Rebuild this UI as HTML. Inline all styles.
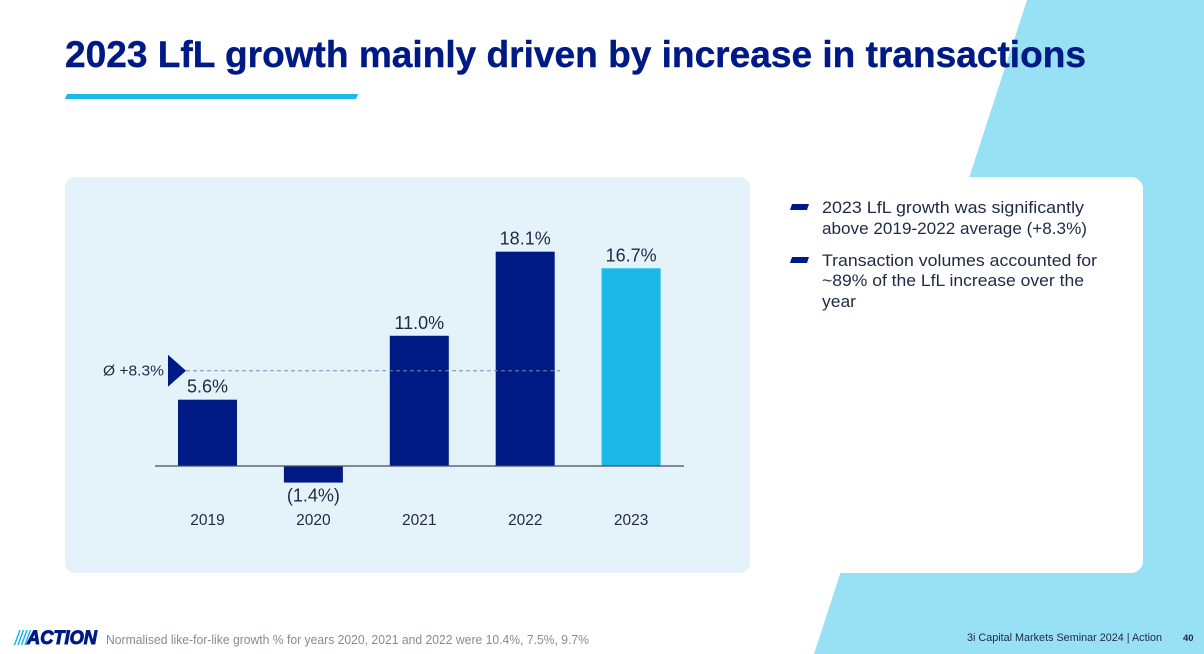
<!DOCTYPE html>
<html lang="en">
<head>
<meta charset="utf-8">
<title>2023 LfL growth mainly driven by increase in transactions</title>
<style>
  html, body { margin: 0; padding: 0; width: 1204px; height: 654px; overflow: hidden; background: #fff; }
  svg { display: block; font-family: "Liberation Sans", "DejaVu Sans", sans-serif; }
</style>
</head>
<body>
<svg id="slide" width="1204" height="654" viewBox="0 0 1204 654" xmlns="http://www.w3.org/2000/svg">
  <rect width="1204" height="654" fill="#ffffff"/>
  <polygon points="1027,0 1204,0 1204,654 814,654" fill="#98e0f3"/>

  <text x="65" y="67" font-size="37" font-weight="700" fill="#001a85" stroke="#001a85" stroke-width="0.4" textLength="1021" lengthAdjust="spacingAndGlyphs">2023 LfL growth mainly driven by increase in transactions</text>
  <polygon points="67,94 358,94 356,99 65,99" fill="#1bb8e8"/>

  <rect x="65" y="177" width="685" height="396" rx="10" fill="#e4f2fa"/>
  <g id="chart"></g>

  <rect x="769" y="177" width="374" height="396" rx="12" fill="#ffffff"/>
  <g font-size="16.5" fill="#1f2a44">
    <polygon points="792,204 809,204 807,210 790,210" fill="#001a85"/>
    <text x="822" y="213" textLength="262" lengthAdjust="spacingAndGlyphs">2023 LfL growth was significantly</text>
    <text x="822" y="234" textLength="265" lengthAdjust="spacingAndGlyphs">above 2019-2022 average (+8.3%)</text>
    <polygon points="792,257 809,257 807,263 790,263" fill="#001a85"/>
    <text x="822" y="266" textLength="275" lengthAdjust="spacingAndGlyphs">Transaction volumes accounted for</text>
    <text x="822" y="286" textLength="262" lengthAdjust="spacingAndGlyphs">~89% of the LfL increase over the</text>
    <text x="822" y="307" textLength="34" lengthAdjust="spacingAndGlyphs">year</text>
  </g>

  <g>
    <g stroke="#1bb8e8" stroke-width="1.5">
      <line x1="20" y1="630" x2="14.5" y2="645"/>
      <line x1="23.5" y1="630" x2="18" y2="645"/>
      <line x1="27" y1="630" x2="21.5" y2="645"/>
      <line x1="30.5" y1="630" x2="25" y2="645"/>
    </g>
    <text x="27" y="644" font-size="19" font-weight="700" font-style="italic" fill="#001a85" stroke="#001a85" stroke-width="1" textLength="70" lengthAdjust="spacingAndGlyphs">ACTION</text>
  </g>
  <text x="106" y="644" font-size="12.5" fill="#858b96" textLength="483" lengthAdjust="spacingAndGlyphs">Normalised like-for-like growth % for years 2020, 2021 and 2022 were 10.4%, 7.5%, 9.7%</text>
  <text x="967" y="641" font-size="11" fill="#1f2a44" textLength="195" lengthAdjust="spacingAndGlyphs">3i Capital Markets Seminar 2024 | Action</text>
  <text x="1183" y="641" font-size="9.5" font-weight="700" fill="#1f2a44">40</text>
</svg>

<script>
const categories = ["2019", "2020", "2021", "2022", "2023"];
const growthValues = [5.6, -1.4, 11.0, 18.1, 16.7];
const valueLabels = ["5.6%", "(1.4%)", "11.0%", "18.1%", "16.7%"];
const highlightedYear = "2023";
const averageLineValue = 8.05;
const averageLabel = "Ø +8.3%";

const NS = "http://www.w3.org/2000/svg";
const chart = document.getElementById("chart");
const zeroY = 466;
const unitHeight = 11.84;
const firstCenter = 207.5;
const bandStep = 105.9;
const barWidth = 59;
const yScale = function (v) { return zeroY - v * unitHeight; };
const xScale = function (i) { return firstCenter + i * bandStep; };

function make(tag, attrs, text) {
  const el = document.createElementNS(NS, tag);
  Object.keys(attrs).forEach(function (k) { el.setAttribute(k, attrs[k]); });
  if (text !== undefined) el.textContent = text;
  chart.appendChild(el);
  return el;
}

categories.forEach(function (year, i) {
  const v = growthValues[i];
  const top = Math.min(yScale(v), zeroY);
  const h = Math.abs(yScale(v) - zeroY);
  const bar = make("rect", {
    x: xScale(i) - barWidth / 2, y: top, width: barWidth, height: h,
    fill: year === highlightedYear ? "#1bb8e8" : "#001a85"
  });
  
  

  const labelY = v >= 0 ? yScale(v) - 7 : yScale(v) + 19;
  const valueText = make("text", {
    x: xScale(i), y: labelY, "text-anchor": "middle", "font-size": 18, fill: "#1f2a44"
  }, valueLabels[i]);
  
  

  const yearText = make("text", {
    x: xScale(i), y: 525, "text-anchor": "middle", "font-size": 15.5, fill: "#1f2a44"
  }, year);
  
  
});

const axis = make("line", {
  x1: 155, x2: 684, y1: zeroY, y2: zeroY, stroke: "#4a4f5e", "stroke-width": 1.4, "stroke-opacity": 0.85
});



const avgY = yScale(averageLineValue);
const avgLine = make("line", {
  x1: 186, x2: 560, y1: avgY, y2: avgY, stroke: "#6f8db5", "stroke-width": 1, "stroke-dasharray": "4 3"
});



const marker = make("polygon", {
  points: "168," + (avgY - 16) + " 186," + avgY + " 168," + (avgY + 16), fill: "#001a85"
});



const avgText = make("text", {
  x: 103, y: avgY + 5, "font-size": 14.5, fill: "#1f2a44", textLength: 61, lengthAdjust: "spacingAndGlyphs"
}, averageLabel);


</script>
</body>
</html>
